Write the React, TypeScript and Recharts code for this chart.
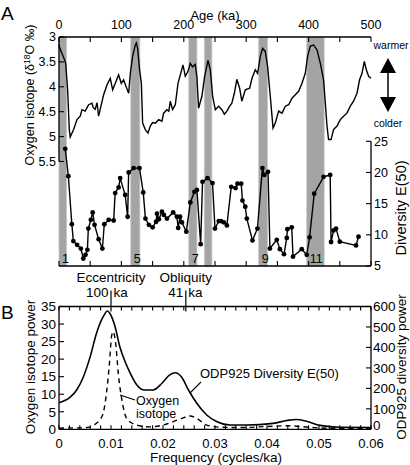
import React from "react";
import { LineChart, Line, XAxis, YAxis, ReferenceArea, ReferenceLine } from "recharts";

const FONT = "'Liberation Sans', Arial, Helvetica, sans-serif";
const INK = "#000";

// panel A: benthic oxygen isotope stack, [age ka, d18O permil]
const isotope: [number, number][] = [
  [0, 3.15], [0.5, 3.19], [4.8, 3.33], [9, 3.46], [10.7, 3.53], [13.8, 4.06], [16.5, 4.86], [18, 5.01],
  [23.4, 4.86], [28.8, 4.66], [34, 4.59], [36.8, 4.46], [42, 4.49], [47.5, 4.36], [52.8, 4.33], [55, 4.42],
  [58, 4.45], [61, 4.32], [63.5, 4.59], [67.8, 4.36], [71.5, 4.16], [77, 3.96], [82.2, 3.83], [86, 4.06],
  [90.2, 3.93], [95.5, 3.76], [99.8, 3.93], [103.5, 3.86], [107.3, 3.99], [111.6, 4.13], [114.3, 3.73],
  [118, 3.39], [122.3, 3.16], [124, 3.12], [126, 3.23], [129.2, 3.66], [132, 3.93], [134, 4.73],
  [138.3, 4.86], [142.6, 4.93], [146.3, 4.79], [150, 4.72], [154.3, 4.73], [159.7, 4.66], [165, 4.69],
  [167.6, 4.53], [173, 4.46], [176, 4.49], [178.4, 4.29], [182, 4.46], [186.4, 4.36], [190.7, 3.93],
  [194.4, 3.76], [198.7, 3.56], [202.4, 3.79], [206.7, 3.69], [210.4, 3.53], [214, 3.6], [218.4, 3.55],
  [221, 3.8], [223.7, 4.43], [229, 4.19], [233.4, 3.79], [238.8, 3.47], [242.5, 3.66], [246.2, 4.19],
  [250.5, 4.46], [255.8, 4.39], [261, 4.46], [265, 4.55], [269, 4.49], [273, 4.4], [277, 4.33], [281, 4.13],
  [285, 3.85], [289.5, 4.03], [293, 4.29], [298.6, 4.06], [305.5, 4.03], [309.3, 3.83], [314.6, 3.66],
  [318.3, 3.73], [322.6, 3.39], [326.3, 3.23], [330.6, 3.29], [334.3, 3.59], [338.6, 4.19], [343, 4.83],
  [346.6, 4.73], [352, 4.49], [357.4, 4.53], [362.7, 4.39], [368, 4.36], [373.4, 4.23], [378.7, 4.16],
  [384, 4.09], [389.4, 3.93], [394.7, 3.73], [398.4, 3.39], [402.7, 3.18], [408, 3.16], [413.5, 3.26],
  [418.8, 3.53], [424, 3.86], [426.8, 4.33], [429.5, 4.79], [432, 5.06], [436, 5.06], [440, 4.86],
  [445.5, 4.79], [450.8, 4.66], [456, 4.59], [461.5, 4.53], [466.8, 4.39], [472, 4.29], [477.6, 4.13],
  [481.7, 3.86], [485.6, 3.73], [489.3, 3.49], [492.5, 3.66], [496.2, 3.79], [500, 3.83],
];

// panel A: ODP925 diversity E(50), [age ka, E(50)]
const diversity: [number, number][] = [
  [10, 23.8], [15, 19.4], [20.6, 11.7], [23, 9.0], [29, 8.4], [35, 7.8], [39, 6.2], [42.5, 6.8],
  [45.5, 7.6], [47, 11.0], [51, 12.4], [54, 13.6], [57, 11.6], [63.5, 9.3], [69.5, 7.8], [72.6, 11.7],
  [79.6, 12.4], [87.6, 12.3], [90, 16.7], [95.6, 17.6], [98, 19.1], [106, 16.4], [110, 12.9], [111.6, 20.0],
  [119.6, 20.7], [129, 20.7], [135, 16.8], [138.5, 12.6], [144, 11.6], [150, 11.2], [155.6, 12.1],
  [157, 13.4], [160, 12.5], [165, 13.7], [168, 13.2], [173, 12.6], [183, 13.6], [189, 12.9], [191, 11.1],
  [194, 12.9], [197, 12.0], [204, 10.5], [210.5, 15.2], [217, 16.9], [221, 17.2], [227, 8.5], [230, 18.5],
  [238, 19.1], [246, 18.3], [250, 11.0], [256, 12.2], [259.6, 12.2], [264, 12.0], [269, 11.5], [276, 17.7],
  [283, 17.5], [286, 18.2], [292, 18.2], [294, 15.5], [298.5, 14.5], [301, 12.6], [310, 9.1], [318, 11.0],
  [326, 20.7], [329, 19.6], [335, 20.1], [338, 7.8], [349, 9.2], [354, 7.7], [360.6, 6.9], [365, 9.5],
  [366, 10.9], [373, 11.2], [375, 6.5], [389, 7.7], [397, 6.8], [401.6, 9.6], [409, 16.6], [424, 19.3],
  [434.6, 19.6], [436, 8.85], [440, 10.7], [444, 11.0], [450, 8.9], [476, 8.3], [480, 9.7],
];

// interglacial stages shaded, [from ka, to ka, stage]
const stages: [number, number, string][] = [
  [0, 12, "1"], [115, 129.5, "5"], [208, 221, "7"], [233, 245, ""], [320, 334, "9"], [397, 425, "11"],
];

const ageTicks = [0, 50, 100, 150, 200, 250, 300, 350, 400, 450, 500];
const isoTicks = [3, 3.5, 4, 4.5, 5, 5.5];
const divTicks = [5, 10, 15, 20, 25];

// panel B: power spectra, [frequency cycles/ka, power]
const divPower: [number, number][] = [
  [0, 130], [0.0021, 156], [0.0034, 192], [0.0047, 257], [0.006, 355], [0.0072, 468], [0.0085, 550],
  [0.0093, 578], [0.0098, 566], [0.0108, 500], [0.0117, 403], [0.0127, 331], [0.0137, 274], [0.0149, 219],
  [0.0165, 192], [0.0181, 192], [0.0198, 225], [0.0213, 266], [0.0224, 276], [0.0236, 254], [0.0249, 192],
  [0.0265, 127], [0.0284, 70], [0.0303, 38], [0.0329, 21], [0.036, 21], [0.0412, 29], [0.0438, 43],
  [0.0457, 48], [0.0476, 39], [0.0502, 19], [0.054, 10], [0.06, 9],
];
const isoPower: [number, number][] = [
  [0, 0.3], [0.002, 0.4], [0.004, 0.4], [0.006, 0.7], [0.0072, 1.7], [0.008, 3.0], [0.0085, 4.6],
  [0.0092, 11.2], [0.0097, 18.8], [0.0101, 26.4], [0.0104, 27.8], [0.0109, 24.5], [0.0114, 16],
  [0.0121, 8.3], [0.013, 3.1], [0.014, 1.8], [0.0149, 1.2], [0.0175, 0.7], [0.02, 1.2], [0.022, 2.2],
  [0.0236, 3.1], [0.0252, 3.8], [0.0265, 3.1], [0.0284, 1.2], [0.031, 0.6], [0.035, 0.5], [0.04, 0.8],
  [0.044, 1.0], [0.048, 0.6], [0.052, 0.3], [0.056, 0.3], [0.06, 0.3],
];

const isoPowerTicks = [0, 5, 10, 15, 20, 25, 30, 35];
const divPowerTicks = [0, 100, 200, 300, 400, 500, 600];
const cycleFreq = [1 / 100, 1 / 41];
const cyclePeriod = ["100", "41"];
const cycleName = ["Eccentricity", "Obliquity"];

const freqTicks = Array.from({ length: 31 }, (_, i) => Number((i * 0.002).toFixed(3)));
const topFreqTicks = freqTicks
  .filter((f) => !cycleFreq.some((c) => Math.abs(c - f) < 1e-6))
  .concat(cycleFreq)
  .sort((a, b) => a - b);

const toRows = (pts: [number, number][]) => pts.map(([x, v]) => ({ x, v }));

const axisLine = { stroke: INK, strokeWidth: 1.3 };
const tickLine = { stroke: INK, strokeWidth: 1.1 };
const tickA = { fontSize: 12.5, fill: INK, fontFamily: FONT };
const tickB = { fontSize: 13.5, fill: INK, fontFamily: FONT };
const tickBx = { fontSize: 13, fill: INK, fontFamily: FONT };

function fmtFreq(v: number) {
  if (Math.round(v * 1000) % 10 !== 0) return "";
  return v === 0 ? "0" : v.toFixed(2);
}

// minor ticks point inward; the two orbital periods get a marker above the frame
function TopFreqTick(props: any) {
  const { x, y, payload } = props;
  const i = cycleFreq.findIndex((c) => Math.abs(c - payload.value) < 1e-9);
  if (i < 0) return <line x1={x} x2={x} y1={y} y2={y + 4} stroke={INK} strokeWidth={1.1} />;
  return (
    <g fontFamily={FONT} fontSize={13.5} fill={INK}>
      <line x1={x} x2={x} y1={y - 16} y2={y + 5} stroke={INK} strokeWidth={1.2} />
      <text x={x - 2.5} y={y - 9.5} textAnchor="end">{cyclePeriod[i]}</text>
      <text x={x + 2.5} y={y - 9.5} textAnchor="start">ka</text>
      <text x={x} y={y - 24.5} textAnchor="middle">{cycleName[i]}</text>
    </g>
  );
}

// right-hand power labels; the 0 sits a touch high so it clears the 0.06 label
function RightPowerTick(props: any) {
  const { x, y, payload } = props;
  const lift = payload.value === 0 ? -4 : 0;
  return (
    <text x={x} y={y + lift} dy="0.355em" textAnchor="start" fontFamily={FONT} fontSize={13.5} fill={INK}>
      {payload.value}
    </text>
  );
}

function PanelA() {
  return (
    <LineChart width={410} height={290} margin={{ top: 0, right: 0, bottom: 0, left: 0 }}>
      <XAxis xAxisId="age" orientation="top" type="number" dataKey="x" domain={[0, 500]} ticks={ageTicks}
        interval={0} height={37} tickSize={-5} tickMargin={13} axisLine={axisLine} tickLine={tickLine}
        tick={tickA} tickFormatter={(v: number) => (v % 100 === 0 ? String(v) : "")} />
      <XAxis xAxisId="ageB" orientation="bottom" type="number" dataKey="x" domain={[0, 500]} ticks={ageTicks}
        interval={0} height={24} tickSize={-5} axisLine={axisLine} tickLine={tickLine}
        tick={tickA} tickFormatter={() => ""} />
      <YAxis yAxisId="iso" orientation="left" type="number" domain={[3, 7.6]} reversed ticks={isoTicks}
        interval={0} width={59} tickSize={-5} tickMargin={8} axisLine={false} tickLine={tickLine}
        tick={tickA} allowDataOverflow />
      <YAxis yAxisId="div" orientation="right" type="number" domain={[5, 41.73]} ticks={divTicks}
        interval={0} width={39} tickSize={-5} tickMargin={8} axisLine={false} tickLine={tickLine}
        tick={tickA} allowDataOverflow />
      {stages.map(([a, b, s]) => (
        <ReferenceArea key={a} xAxisId="age" yAxisId="iso" x1={a} x2={b} fill="#a4a4a4" fillOpacity={1}
          stroke="#c4c4c4" strokeWidth={0.8}
          label={s ? { value: s, position: "insideBottomLeft", offset: 3, fontSize: 12.5, fill: INK, fontFamily: FONT } : undefined} />
      ))}
      <ReferenceLine xAxisId="age" yAxisId="iso" segment={[{ x: 0, y: 3 }, { x: 0, y: 5.5 }]}
        stroke={INK} strokeWidth={1.3} />
      <ReferenceLine xAxisId="age" yAxisId="div" segment={[{ x: 500, y: 5 }, { x: 500, y: 25 }]}
        stroke={INK} strokeWidth={1.3} />
      <Line xAxisId="age" yAxisId="iso" data={toRows(isotope)} dataKey="v" type="linear" stroke={INK}
        strokeWidth={1.4} dot={false} isAnimationActive={false} />
      <Line xAxisId="ageB" yAxisId="div" data={toRows(diversity)} dataKey="v" type="linear" stroke={INK}
        strokeWidth={1.4} dot={{ r: 2.4, fill: INK, stroke: INK, strokeWidth: 0 }} isAnimationActive={false} />
    </LineChart>
  );
}

function PanelB() {
  return (
    <LineChart width={410} height={199} margin={{ top: 0, right: 0, bottom: 0, left: 0 }}>
      <XAxis xAxisId="fT" orientation="top" type="number" dataKey="x" domain={[0, 0.06]} ticks={topFreqTicks}
        interval={0} height={40.5} tickSize={0} tickMargin={0} axisLine={axisLine} tickLine={false}
        tick={(p: any) => <TopFreqTick {...p} />} />
      <XAxis xAxisId="fB" orientation="bottom" type="number" dataKey="x" domain={[0, 0.06]} ticks={freqTicks}
        interval={0} height={35.7} tickSize={-4} tickMargin={13} axisLine={axisLine} tickLine={tickLine}
        tick={tickBx} tickFormatter={fmtFreq} />
      <YAxis yAxisId="pIso" orientation="left" type="number" domain={[0, 35]} ticks={isoPowerTicks}
        interval={0} width={59} tickSize={-5} tickMargin={8} axisLine={axisLine} tickLine={tickLine} tick={tickB} />
      <YAxis yAxisId="pDiv" orientation="right" type="number" domain={[0, 600]} ticks={divPowerTicks}
        interval={0} width={39} tickSize={-5} tickMargin={7} axisLine={axisLine} tickLine={tickLine}
        tick={(p: any) => <RightPowerTick {...p} />} />
      <Line xAxisId="fT" yAxisId="pIso" data={toRows(isoPower)} dataKey="v" type="monotone" stroke={INK}
        strokeWidth={1.4} strokeDasharray="5 4" dot={false} isAnimationActive={false} />
      <Line xAxisId="fB" yAxisId="pDiv" data={toRows(divPower)} dataKey="v" type="monotone" stroke={INK}
        strokeWidth={1.6} dot={false} isAnimationActive={false} />
    </LineChart>
  );
}

function Titles() {
  return (
    <svg width={410} height={465} style={{ position: "absolute", left: 0, top: 0, pointerEvents: "none" }}
      fontFamily={FONT} fill={INK}>
      <text x={1} y={20} fontSize={19}>A</text>
      <text x={1} y={319} fontSize={19}>B</text>
      <text x={215} y={20} fontSize={13} textAnchor="middle">Age (ka)</text>
      <text transform="translate(34,95) rotate(-90)" fontSize={12.5} textAnchor="middle">
        Oxygen isotope (δ<tspan fontSize={8.5} dy={-4.5}>18</tspan><tspan dy={4.5}>O ‰)</tspan>
      </text>
      <text transform="translate(406,208) rotate(-90)" fontSize={14.5} textAnchor="middle">Diversity E(50)</text>
      <text x={391} y={49} fontSize={10.5} textAnchor="middle">warmer</text>
      <text x={388} y={127} fontSize={10.5} textAnchor="middle">colder</text>
      <line x1={388} x2={388} y1={70} y2={100} stroke={INK} strokeWidth={1.5} />
      <polygon points="388,58 380,73 396,73" />
      <polygon points="388,112 380,97 396,97" />
      <text transform="translate(35,367) rotate(-90)" fontSize={13.5} textAnchor="middle">Oxygen isotope power</text>
      <text transform="translate(406,367) rotate(-90)" fontSize={13.5} textAnchor="middle">ODP925 diversity power</text>
      <text x={216} y={462} fontSize={13.5} textAnchor="middle">Frequency (cycles/ka)</text>
      <text x={200} y={378} fontSize={13}>ODP925 Diversity E(50)</text>
      <line x1={201} y1={382} x2={190} y2={393} stroke={INK} strokeWidth={1.1} />
      <text x={136} y={405} fontSize={12.5}>Oxygen</text>
      <text x={136} y={418} fontSize={12.5}>isotope</text>
      <line x1={120} y1={395} x2={135} y2={400} stroke={INK} strokeWidth={1.1} />
    </svg>
  );
}

export default function App() {
  return (
    <div style={{ position: "absolute", left: 0, top: 0, width: 410, height: 465, background: "#fff", fontFamily: FONT }}>
      <div style={{ position: "absolute", left: 0, top: 0 }}>
        <PanelA />
      </div>
      <div style={{ position: "absolute", left: 0, top: 266 }}>
        <PanelB />
      </div>
      <Titles />
    </div>
  );
}
